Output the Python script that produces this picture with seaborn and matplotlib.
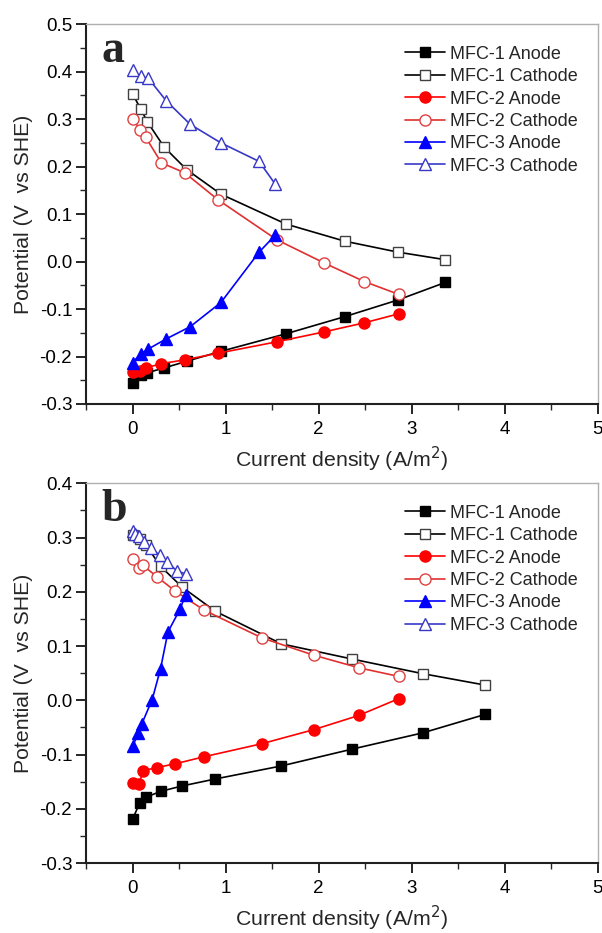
import numpy as np
import pandas as pd
import matplotlib
matplotlib.use("Agg")
import matplotlib.pyplot as plt
from matplotlib.ticker import MultipleLocator, FormatStrFormatter
import seaborn as sns

# ---- data ----
labels = ["MFC-1 Anode", "MFC-1 Cathode", "MFC-2 Anode",
          "MFC-2 Cathode", "MFC-3 Anode", "MFC-3 Cathode"]

# panel a
a_mfc1_x = [0, 0.086, 0.16, 0.34, 0.58, 0.95, 1.65, 2.28, 2.85, 3.36]
a_mfc1_anode = [-0.255, -0.238, -0.234, -0.224, -0.210, -0.189, -0.152, -0.116, -0.081, -0.044]
a_mfc1_cathode = [0.353, 0.322, 0.294, 0.241, 0.194, 0.142, 0.079, 0.043, 0.020, 0.004]
a_mfc2_x = [0, 0.08, 0.14, 0.31, 0.56, 0.92, 1.55, 2.06, 2.49, 2.86]
a_mfc2_anode = [-0.232, -0.230, -0.224, -0.215, -0.207, -0.193, -0.169, -0.148, -0.129, -0.110]
a_mfc2_cathode = [0.301, 0.278, 0.262, 0.208, 0.187, 0.130, 0.046, -0.003, -0.042, -0.069]
a_mfc3_x = [0, 0.086, 0.17, 0.36, 0.62, 0.95, 1.36, 1.53]
a_mfc3_anode = [-0.213, -0.194, -0.184, -0.163, -0.137, -0.086, 0.020, 0.055]
a_mfc3_cathode = [0.403, 0.390, 0.386, 0.339, 0.289, 0.250, 0.211, 0.164]

# panel b
b_mfc1_x = [0, 0.075, 0.14, 0.30, 0.53, 0.89, 1.60, 2.36, 3.12, 3.79]
b_mfc1_anode = [-0.219, -0.190, -0.179, -0.168, -0.158, -0.145, -0.121, -0.090, -0.060, -0.026]
b_mfc1_cathode = [0.305, 0.297, 0.287, 0.247, 0.209, 0.164, 0.104, 0.076, 0.049, 0.028]
b_mfc2_x = [0, 0.07, 0.11, 0.26, 0.46, 0.77, 1.39, 1.95, 2.43, 2.86]
b_mfc2_anode = [-0.152, -0.155, -0.130, -0.124, -0.117, -0.104, -0.080, -0.054, -0.028, 0.003]
b_mfc2_cathode = [0.261, 0.244, 0.249, 0.228, 0.201, 0.166, 0.115, 0.083, 0.060, 0.044]
b_mfc3_anode_x = [0, 0.06, 0.10, 0.21, 0.30, 0.38, 0.51, 0.57]
b_mfc3_anode = [-0.085, -0.061, -0.043, 0.001, 0.058, 0.126, 0.168, 0.195]
b_mfc3_cathode_x = [0, 0.03, 0.07, 0.12, 0.20, 0.29, 0.37, 0.48, 0.57]
b_mfc3_cathode = [0.312, 0.307, 0.302, 0.292, 0.281, 0.267, 0.255, 0.238, 0.233]

colors = ["black", "black", "#ff0000", "#e03030", "#0000ff", "#3838c8"]
edge_open = ["black", "#404040", "#ff0000", "#e04040", "#0000ff", "#3838c8"]
markers = ["s", "s", "o", "o", "^", "^"]
msizes = [7, 7, 8, 8, 8.5, 9]
filled = [True, False, True, False, True, False]

sns.set_style("ticks")
plt.rcParams["font.family"] = ["Liberation Sans", "DejaVu Sans"]
plt.rcParams["xtick.direction"] = "out"
plt.rcParams["ytick.direction"] = "out"

fig = plt.figure(figsize=(6.02, 9.33), dpi=100)
ax_a = fig.add_axes([0.143, 0.567, 0.850, 0.407])
ax_b = fig.add_axes([0.143, 0.075, 0.850, 0.407])

panels = [
    (ax_a, "a",
     [(a_mfc1_x, a_mfc1_anode), (a_mfc1_x, a_mfc1_cathode),
      (a_mfc2_x, a_mfc2_anode), (a_mfc2_x, a_mfc2_cathode),
      (a_mfc3_x, a_mfc3_anode), (a_mfc3_x, a_mfc3_cathode)],
     (-0.3, 0.5), (0.982, 0.972)),
    (ax_b, "b",
     [(b_mfc1_x, b_mfc1_anode), (b_mfc1_x, b_mfc1_cathode),
      (b_mfc2_x, b_mfc2_anode), (b_mfc2_x, b_mfc2_cathode),
      (b_mfc3_anode_x, b_mfc3_anode), (b_mfc3_cathode_x, b_mfc3_cathode)],
     (-0.3, 0.4), (0.982, 0.972)),
]

for ax, tag, series, ylim, legpos in panels:
    for i, (xs, ys) in enumerate(series):
        df = pd.DataFrame({"x": xs, "y": ys})
        sns.lineplot(data=df, x="x", y="y", ax=ax, sort=False, estimator=None,
                     color=colors[i], linewidth=1.2, marker=markers[i],
                     markersize=msizes[i],
                     markerfacecolor=edge_open[i] if filled[i] else "white",
                     markeredgecolor=edge_open[i], markeredgewidth=1.0,
                     label=labels[i])
    ax.set_xlim(-0.5, 5)
    ax.set_ylim(*ylim)
    ax.xaxis.set_major_locator(MultipleLocator(1))
    ax.xaxis.set_minor_locator(MultipleLocator(0.5))
    ax.yaxis.set_major_locator(MultipleLocator(0.1))
    ax.yaxis.set_minor_locator(MultipleLocator(0.05))
    ax.yaxis.set_major_formatter(FormatStrFormatter("%.1f"))
    ax.tick_params(which="major", length=7, width=1.2, labelsize=13.5, colors="black")
    ax.tick_params(which="minor", length=4, width=1.0)
    ax.tick_params(axis="x", which="major", pad=5)
    ax.tick_params(axis="y", which="major", pad=3)
    ax.tick_params(top=False, right=False, which="both")
    for side in ["left", "bottom"]:
        ax.spines[side].set_linewidth(1.5)
        ax.spines[side].set_color("#202020")
    for side in ["top", "right"]:
        ax.spines[side].set_visible(True)
        ax.spines[side].set_linewidth(1.0)
        ax.spines[side].set_color("#b0b0b0")
    ax.set_xlabel("Current density (A/m$^2$)", fontsize=15.3, labelpad=5)
    ax.set_ylabel("Potential (V  vs SHE)", fontsize=15.3, labelpad=5)
    ax.text(0.03, 0.985, tag, transform=ax.transAxes, ha="left", va="top",
            fontsize=33, fontweight="bold", family=["Liberation Serif", "DejaVu Serif"])
    ax.legend(loc="upper right", bbox_to_anchor=legpos, frameon=False,
              fontsize=13, handlelength=2.2, handletextpad=0.3,
              labelspacing=0.3, borderaxespad=0.2)

fig.savefig("out.png", dpi=100)
